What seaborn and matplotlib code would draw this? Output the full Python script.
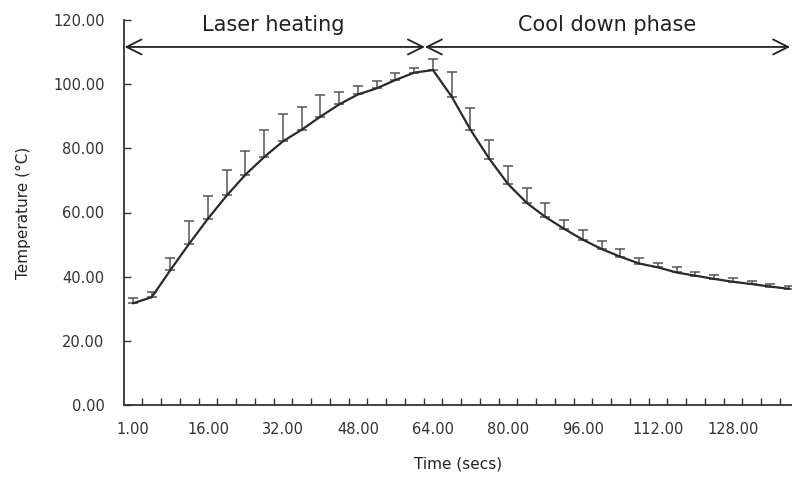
import matplotlib
matplotlib.use("Agg")
import matplotlib.pyplot as plt
import numpy as np
import pandas as pd
import seaborn as sns

sns.set_theme(style="white")
plt.rcParams["font.family"] = ["DejaVu Sans"]

# time points (secs), one category each
time_s = [1, 4, 8, 12, 16, 20, 24, 28, 32, 36, 40, 44, 48, 52, 56, 60, 64,
          68, 72, 76, 80, 84, 88, 92, 96, 100, 104, 108, 112, 116, 120, 124,
          128, 132, 136, 140]
temp_c = [31.7, 33.6, 42.1, 50.3, 58.1, 65.3, 71.8, 77.3, 82.2, 85.8, 89.9,
          93.7, 96.8, 98.7, 101.3, 103.6, 104.4, 96.1, 85.8, 76.8, 68.9, 63.0,
          58.6, 54.9, 51.5, 48.6, 46.2, 44.1, 42.9, 41.3, 40.3, 39.3, 38.4,
          37.7, 36.9, 36.2]
err_up = [1.5, 1.5, 3.7, 6.9, 6.9, 8.1, 7.5, 8.5, 8.4, 7.2, 6.7, 4.0, 2.7,
          2.4, 2.3, 1.3, 3.4, 7.6, 6.9, 5.9, 5.5, 4.7, 4.3, 2.7, 3.0, 2.6, 2.4,
          1.7, 1.5, 1.6, 1.3, 1.3, 1.1, 1.1, 0.8, 1.0]
y_ticks = [0, 20, 40, 60, 80, 100, 120]
label_every = 4

df = pd.DataFrame({"idx": np.arange(len(time_s)), "time": time_s,
                   "temp": temp_c, "err": err_up})

fig = plt.figure(figsize=(7.92, 4.78), dpi=100)
ax = fig.add_axes([124 / 792, 73 / 478, 668 / 792, 385 / 478])

ax.errorbar(df["idx"], df["temp"], yerr=[np.zeros(len(df)), df["err"]],
            fmt="none", ecolor="#555555", elinewidth=1.1, capsize=3.7,
            capthick=1.1, zorder=2)
sns.lineplot(data=df, x="idx", y="temp", ax=ax, color="#2a2a2a",
             linewidth=1.6, zorder=3)

ax.set_xlim(-0.48, 35.15)
ax.set_ylim(0, 120)
ax.set_yticks(y_ticks)
ax.set_yticklabels([f"{v:.2f}" for v in y_ticks])

# category boundaries carry the tick marks, labels sit on the categories
ax.set_xticks(np.arange(0.5, len(time_s) - 1, 1.0))
ax.set_xticklabels([])
lab_idx = df["idx"][::label_every]
ax.set_xticks(lab_idx, minor=True)
ax.set_xticklabels([f"{t:.2f}" for t in df["time"][::label_every]], minor=True)
ax.tick_params(axis="x", which="major", bottom=True, direction="in",
               length=5, width=1, color="#333333")
ax.tick_params(axis="x", which="minor", bottom=True, length=0, pad=12,
               labelsize=10.5, labelcolor="#333333")
ax.tick_params(axis="y", left=True, direction="in", length=5, width=1,
               color="#333333", pad=14, labelsize=10.5, labelcolor="#333333")

for side in ["top", "right"]:
    ax.spines[side].set_visible(False)
for side in ["left", "bottom"]:
    ax.spines[side].set_color("#333333")
    ax.spines[side].set_linewidth(1.3)

ax.set_xlabel("Time (secs)", fontsize=11, color="#222222", labelpad=14)
ax.set_ylabel("Temperature (\u00b0C)", fontsize=11, color="#222222",
              labelpad=16)

# phase arrows
arrow_y = 111.6
split_x = 15.57
arr = dict(arrowstyle="<->,head_length=0.9,head_width=0.45",
           color="#222222", lw=1.3, shrinkA=0, shrinkB=0)
ax.annotate("", xy=(-0.45, arrow_y), xytext=(split_x, arrow_y),
            arrowprops=arr, annotation_clip=False)
ax.annotate("", xy=(split_x, arrow_y), xytext=(35.05, arrow_y),
            arrowprops=arr, annotation_clip=False)
ax.text(7.5, 118.5, "Laser heating", ha="center", va="center",
        fontsize=15, color="#222222")
ax.text(25.3, 118.5, "Cool down phase", ha="center", va="center",
        fontsize=15, color="#222222")

fig.savefig("out.png", dpi=100)
